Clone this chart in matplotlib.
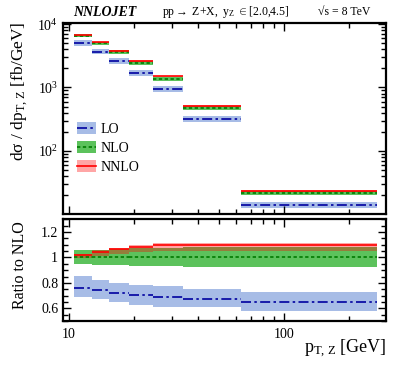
import matplotlib
matplotlib.use('Agg')
import matplotlib.pyplot as plt
from matplotlib.patches import Patch
from matplotlib.lines import Line2D
from matplotlib import ticker
import numpy as np

plt.rcParams['font.family'] = ['Liberation Serif', 'DejaVu Serif']
plt.rcParams['mathtext.fontset'] = 'custom'
plt.rcParams['mathtext.rm'] = 'Liberation Serif'
plt.rcParams['mathtext.it'] = 'Liberation Serif:italic'

# LHCb 8 TeV Z pT bins (GeV)
pt_edges = [10.5, 12.8, 15.4, 19.0, 24.5, 34.0, 63.0, 270.0]
# NLO central values, fb/GeV
nlo = [6600, 5000, 3600, 2440, 1377, 469, 21.2]
# everything else as ratio to NLO
nlo_hi_r = [1.055, 1.062, 1.068, 1.073, 1.078, 1.080, 1.083]
nlo_lo_r = [0.950, 0.943, 0.938, 0.934, 0.931, 0.929, 0.926]
lo_r = [0.762, 0.741, 0.718, 0.702, 0.686, 0.670, 0.649]
lo_hi_r = [0.853, 0.822, 0.800, 0.780, 0.772, 0.751, 0.725]
lo_lo_r = [0.691, 0.673, 0.647, 0.628, 0.613, 0.608, 0.581]
nnlo_r = [1.018, 1.046, 1.064, 1.084, 1.096, 1.096, 1.096]
nnlo_hi_r = [1.030, 1.058, 1.078, 1.100, 1.112, 1.112, 1.112]
nnlo_lo_r = [0.995, 1.015, 1.030, 1.045, 1.052, 1.052, 1.052]

edges = np.array(pt_edges)
nlo_a = np.array(nlo)
ones = np.ones(len(nlo))

lo_band_col = '#a7bce6'
nlo_band_col = (0.2, 0.7, 0.2)
nnlo_band_col = (1.0, 0.0, 0.0)
lo_col = '#0000a0'
nlo_col = '#007a00'
nnlo_col = '#ff0000'

series = [
    # central ratio, hi, lo, band colour, band alpha, line colour, line style
    (lo_r, lo_hi_r, lo_lo_r, lo_band_col, 1.0, lo_col, (0, (6, 2, 1.5, 2))),
    (ones, nlo_hi_r, nlo_lo_r, nlo_band_col, 0.8, nlo_col, (0, (2, 1.5))),
    (nnlo_r, nnlo_hi_r, nnlo_lo_r, nnlo_band_col, 0.35, nnlo_col, '-'),
]

fig = plt.figure(figsize=(4.07, 3.65), dpi=100)
ax1 = fig.add_axes([0.155, 0.413, 0.793, 0.525])
ax2 = fig.add_axes([0.155, 0.1205, 0.793, 0.2785])

for cen, hi, lo, bcol, balpha, lcol, ls in series:
    hi = np.array(hi)
    lo = np.array(lo)
    ax1.stairs(nlo_a * hi, edges, baseline=nlo_a * lo, fill=True,
               color=bcol, alpha=balpha, lw=0)
    ax2.stairs(hi, edges, baseline=lo, fill=True, color=bcol, alpha=balpha, lw=0)
for cen, hi, lo, bcol, balpha, lcol, ls in series:
    cen = np.array(cen)
    ax1.hlines(nlo_a * cen, edges[:-1], edges[1:], colors=lcol, linestyles=ls, lw=1.2)
    ax2.hlines(cen, edges[:-1], edges[1:], colors=lcol, linestyles=ls, lw=1.2)

for ax in (ax1, ax2):
    ax.set_xscale('log')
    ax.set_xlim(9.38, 298)
    ax.set_xticks([10, 100])
    ax.xaxis.set_minor_locator(ticker.LogLocator(base=10, subs=np.arange(2, 10)))
    ax.xaxis.set_minor_formatter(ticker.NullFormatter())
    ax.tick_params(which='both', direction='in', top=True, right=True,
                   width=1.0, labelsize=10)
    ax.tick_params(which='major', length=6)
    ax.tick_params(which='minor', length=3.5)
    for s in ax.spines.values():
        s.set_linewidth(1.6)

ax1.set_yscale('log')
ax1.set_ylim(9.9, 1.06e4)
ax1.set_yticks([100, 1000, 10000])
ax1.yaxis.set_minor_locator(ticker.LogLocator(base=10, subs=np.arange(2, 10)))
ax1.yaxis.set_minor_formatter(ticker.NullFormatter())
ax1.set_xticklabels([])

ax2.set_ylim(0.5, 1.3)
ax2.set_yticks([0.6, 0.8, 1.0, 1.2])
ax2.set_yticklabels(['0.6', '0.8', '1', '1.2'])
ax2.yaxis.set_minor_locator(ticker.MultipleLocator(0.05))
ax2.set_xticklabels(['10', '100'])
ax2.tick_params(axis='x', pad=5)

handles = []
for cen, hi, lo, bcol, balpha, lcol, ls in series:
    handles.append((Patch(facecolor=bcol, alpha=balpha, lw=0),
                    Line2D([], [], color=lcol, ls=ls, lw=1.2)))
ax1.legend(handles, ['LO', 'NLO', 'NNLO'], loc='upper left',
           bbox_to_anchor=(0.042, 0.48), frameon=False, fontsize=10,
           borderpad=0, borderaxespad=0, handlelength=1.4, handleheight=0.9,
           handletextpad=0.35, labelspacing=0.4)

fig.text(0.179, 0.966, 'NNLOJET', fontsize=10, fontweight='bold',
         fontstyle='italic', va='center', ha='left')
fig.text(0.398, 0.966, 'pp$\\rightarrow$ Z+X,  y$_{\\rm Z}$ $\\in$[2.0,4.5]',
         fontsize=8.5, va='center', ha='left')
fig.text(0.781, 0.966, '\u221as = 8 TeV', fontsize=8.5, va='center', ha='left')

fig.text(0.047, 0.942, 'd\u03c3 / dp$_{\\rm T,\\,Z}$ [fb/GeV]', rotation=90,
         fontsize=12.5, va='top', ha='center')
fig.text(0.05, 0.274, 'Ratio to NLO', rotation=90, fontsize=11.5,
         va='center', ha='center')
fig.text(0.951, 0.033, 'p$_{\\rm T,\\,Z}$ [GeV]', fontsize=13,
         va='baseline', ha='right')

fig.savefig('out.png', dpi=100)
